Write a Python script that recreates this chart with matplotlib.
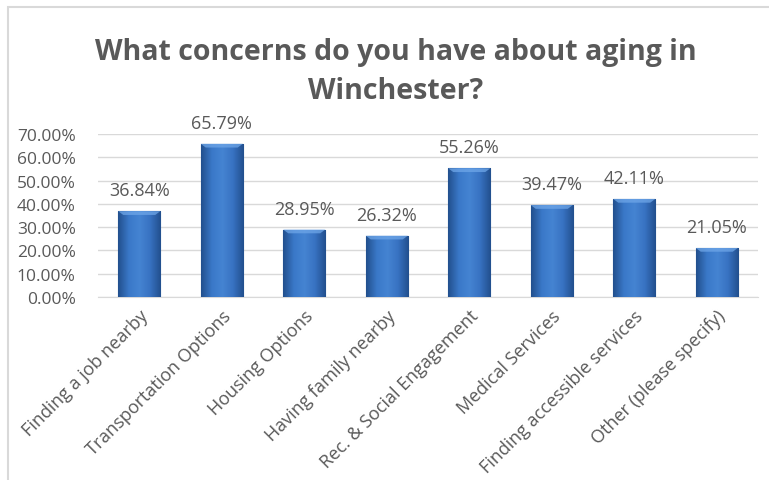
import matplotlib.pyplot as plt
import numpy as np
from matplotlib.colors import LinearSegmentedColormap
from matplotlib.patches import Rectangle

# survey answers, share of respondents (%)
categories = ['Finding a job nearby', 'Transportation Options', 'Housing Options',
              'Having family nearby', 'Rec. & Social Engagement', 'Medical Services',
              'Finding accessible services', 'Other (please specify)']
values = [36.84, 65.79, 28.95, 26.32, 55.26, 39.47, 42.11, 21.05]
yticks = [0, 10, 20, 30, 40, 50, 60, 70]

plt.rcParams['font.family'] = ['Open Sans', 'DejaVu Sans']
grey = '#595959'

fig = plt.figure(figsize=(7.69, 4.81), dpi=100)
fig.patch.set_facecolor('white')
# light frame around the chart like the excel export
fig.add_artist(Rectangle((8 / 769, -0.1), 1.2, 1 - 8 / 481 + 0.1, transform=fig.transFigure,
                         fill=False, edgecolor='#d9d9d9', linewidth=1.5))

ax = fig.add_axes([98 / 769, 1 - 298 / 481, 660 / 769, 163 / 481])

x = np.arange(len(categories))
bars = ax.bar(x, values, width=0.51, color='#3872c2', edgecolor='#234f8c', linewidth=0.8, zorder=3)

# give the bars a little shading (dark sides, lighter middle)
cmap = LinearSegmentedColormap.from_list('bar', ['#22508e', '#3a78c8', '#4584d2', '#3872c2', '#22508e'])
grad = np.linspace(0, 1, 64).reshape(1, -1)
for b in bars:
    x0, w, h = b.get_x(), b.get_width(), b.get_height()
    im = ax.imshow(grad, extent=[x0, x0 + w, 0, h], aspect='auto', cmap=cmap, zorder=3.5)
    im.set_clip_path(b)
    # lighter bevel on the top edge
    ax.fill([x0, x0 + w, x0 + w * 0.88, x0 + w * 0.12], [h, h, h - 1.6, h - 1.6],
            color='#6ea6e8', alpha=0.75, zorder=3.6, linewidth=0)

for xi, v in zip(x, values):
    ax.annotate(f'{v:.2f}%', (xi, v), xytext=(0, 12), textcoords='offset pixels',
                ha='center', va='bottom', fontsize=13, color=grey, annotation_clip=False)

ax.set_xlim(-0.5, len(categories) - 0.5)
ax.set_ylim(0, 70)
ax.set_yticks(yticks)
ax.set_yticklabels([f'{t:.2f}%' for t in yticks])
ax.set_xticks(x)
ax.set_xticklabels(categories, rotation=45, ha='right', rotation_mode='anchor', fontsize=13)
ax.tick_params(axis='both', length=0, colors=grey)
ax.tick_params(axis='y', pad=16, labelsize=12.5)
ax.tick_params(axis='x', pad=7)
ax.grid(axis='y', color='#d9d9d9', linewidth=1, zorder=0)
ax.set_axisbelow(True)
for s in ['top', 'right', 'left']:
    ax.spines[s].set_visible(False)
ax.spines['bottom'].set_color('#d9d9d9')

fig.text(396 / 769, 1 - 72 / 481, 'What concerns do you have about aging in\nWinchester?',
         ha='center', va='center', fontsize=20.5, fontweight='bold', color=grey, linespacing=1.45)

fig.savefig('out.png', dpi=100)
